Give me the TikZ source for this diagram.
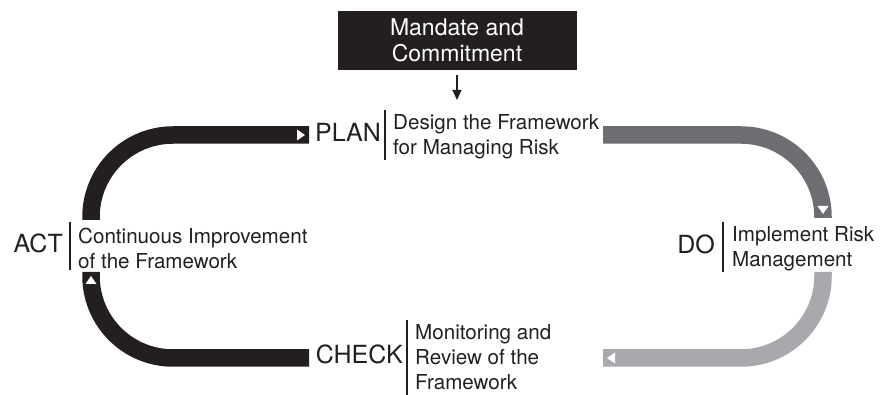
\documentclass[tikz,border=0pt]{standalone}
\usepackage{fontspec}
\setmainfont{TeX Gyre Heros}
\usetikzlibrary{arrows.meta, positioning, decorations.markings}

\definecolor{inkblack}{HTML}{231F20}
\definecolor{darkband}{HTML}{6D6E71}
\definecolor{lightband}{HTML}{A7A9AC}

\begin{document}
\begin{tikzpicture}[x=1pt, y=-1pt,
    stage/.style={anchor=east, inner sep=0pt, text=inkblack, font=\fontsize{25}{28}\selectfont},
    desc/.style={anchor=west, inner sep=0pt, align=left, text=inkblack, font=\fontsize{20.6}{25}\selectfont},
    divider/.style={line width=1.1pt, draw=inkblack},
    band/.style={line width=17.5pt, rounded corners=82pt, postaction={decorate},
        decoration={markings, mark=at position 1 with {\fill[white, sharp corners] (-12pt,-5.5pt) -- (-4pt,0pt) -- (-12pt,5.5pt) -- cycle;}}}
]
\useasboundingbox (0,0) rectangle (895,395);

% Mandate box on top
\node[fill=inkblack, text=white, minimum width=239pt, minimum height=59pt, align=center,
      font=\fontsize{23}{26}\selectfont] (mandate) at (457,40.5) {Mandate and\\Commitment};
\coordinate (entry) at (457,100);
\draw[-{Triangle[width=9pt,length=10pt]}, line width=1.2pt, inkblack, shorten <=5pt] (mandate.south) -- (entry);

% Band ends
\coordinate (planL) at (309,135);
\coordinate (planR) at (603,135);
\coordinate (doT) at (823,218);
\coordinate (doB) at (823,272);
\coordinate (checkR) at (603,358);
\coordinate (checkL) at (309,358);
\coordinate (actB) at (91,272);
\coordinate (actT) at (91,220);

% The cycle
\draw[band, darkband] (planR) -| (doT);
\draw[band, lightband] (doB) |- (checkR);
\draw[band, inkblack] (checkL) -| (actB);
\draw[band, inkblack] (actT) |- (planL);

% PLAN
\node[stage] (plan) at (381,132) {PLAN};
\draw[divider] (385,110) coordinate (planA) -- (385,160) coordinate (planZ);
\node[desc] (plantxt) at (393,137) {Design the Framework\\for Managing Risk};

% DO
\node[stage] (do) at (715,244) {DO};
\draw[divider] (723,222) coordinate (doA) -- (723,272) coordinate (doZ);
\node[desc] (dotxt) at (732,249) {Implement Risk\\Management};

% CHECK
\node[stage] (check) at (403,354) {CHECK};
\draw[divider] (407,320) coordinate (checkA) -- (407,395) coordinate (checkZ);
\node[desc] (checktxt) at (415,357.5) {Monitoring and\\Review of the\\Framework};

% ACT
\node[stage] (act) at (63,243) {ACT};
\draw[divider] (70,222) coordinate (actA) -- (70,270) coordinate (actZ);
\node[desc] (acttxt) at (78,248) {Continuous Improvement\\of the Framework};

\end{tikzpicture}
\end{document}
